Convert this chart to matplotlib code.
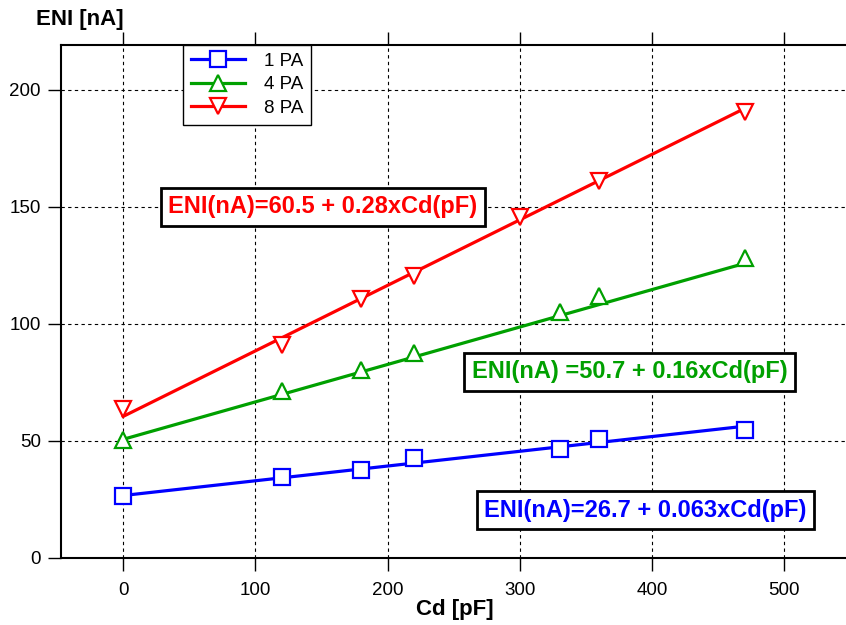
import numpy as np
import matplotlib.pyplot as plt

plt.rcParams['font.family'] = ['Liberation Sans', 'DejaVu Sans']

# detector capacitance (pF)
cd = [0, 120, 180, 220, 330, 360, 470]
cd_8pa = [0, 120, 180, 220, 300, 360, 470]

# measured ENI (nA)
eni_1pa = [26.7, 34.7, 37.7, 42.7, 46.7, 50.8, 54.5]
eni_4pa = [50.5, 71.5, 80.5, 87.5, 105.0, 112.0, 128.0]
eni_8pa = [63.5, 91.0, 110.5, 120.5, 145.5, 161.0, 190.5]

labels = ['1 PA', '4 PA', '8 PA']
colors = ['#0000ff', '#00a000', '#ff0000']
markers = ['s', '^', 'v']

# linear fits: (intercept, slope, label text)
fits = [(26.7, 0.063, 'ENI(nA)=26.7 + 0.063xCd(pF)'),
        (50.7, 0.16, 'ENI(nA) =50.7 + 0.16xCd(pF)'),
        (60.5, 0.28, 'ENI(nA)=60.5 + 0.28xCd(pF)')]
fit_pos = [(395, 20.5), (383, 79.5), (151, 150)]

fig = plt.figure(figsize=(8.46, 6.25), dpi=100)
ax = fig.add_axes([61 / 846, 67 / 625, 785 / 846, 513 / 625])

xs_all = [cd, cd, cd_8pa]
ys_all = [eni_1pa, eni_4pa, eni_8pa]
handles = []
for xs, ys, (b, m, txt), c, mk, lab, pos in zip(xs_all, ys_all, fits, colors,
                                                markers, labels, fit_pos):
    xs = np.array(xs)
    ax.plot(xs, b + m * xs, color=c, lw=2.3, zorder=3)
    ax.plot(xs, ys, linestyle='none', marker=mk, ms=12, mfc='white',
            mec=c, mew=1.6, zorder=4)
    h, = ax.plot([], [], color=c, lw=2.3, marker=mk, ms=12, mfc='white',
                 mec=c, mew=1.6, label=lab)
    handles.append(h)
    ax.text(pos[0], pos[1], txt, color=c, fontsize=17, fontweight='bold',
            ha='center', va='center', zorder=6,
            bbox=dict(boxstyle='square,pad=0.32', fc='white', ec='black', lw=2))

ax.set_xlim(-47, 546.6)
ax.set_ylim(0, 219.2)
ax.set_xticks([0, 100, 200, 300, 400, 500])
ax.set_yticks([0, 50, 100, 150, 200])
ax.grid(True, color='black', linestyle=(0, (3, 3)), lw=0.8)
ax.tick_params(axis='both', direction='out', length=9.5, width=1,
               labelsize=13.5, pad=5)
ax.tick_params(axis='x', top=True, pad=8)
ax.spines['right'].set_visible(False)
for s in ['left', 'bottom', 'top']:
    ax.spines[s].set_linewidth(1.5)

leg = ax.legend(handles=handles, loc='upper left',
                bbox_to_anchor=((183 - 61) / 785, 1.0), fontsize=13.5,
                frameon=True, fancybox=False, edgecolor='black',
                framealpha=1, handlelength=2.9, handletextpad=1.0,
                borderpad=0.4, labelspacing=0.35, borderaxespad=0)
leg.get_frame().set_linewidth(1)
leg.set_zorder(7)

fig.text(80 / 846, 1 - 20 / 625, 'ENI [nA]', fontsize=16, fontweight='bold',
         ha='center', va='center')
fig.text(455 / 846, 1 - 610 / 625, 'Cd [pF]', fontsize=16, fontweight='bold',
         ha='center', va='center')

fig.savefig('out.png', dpi=100)
